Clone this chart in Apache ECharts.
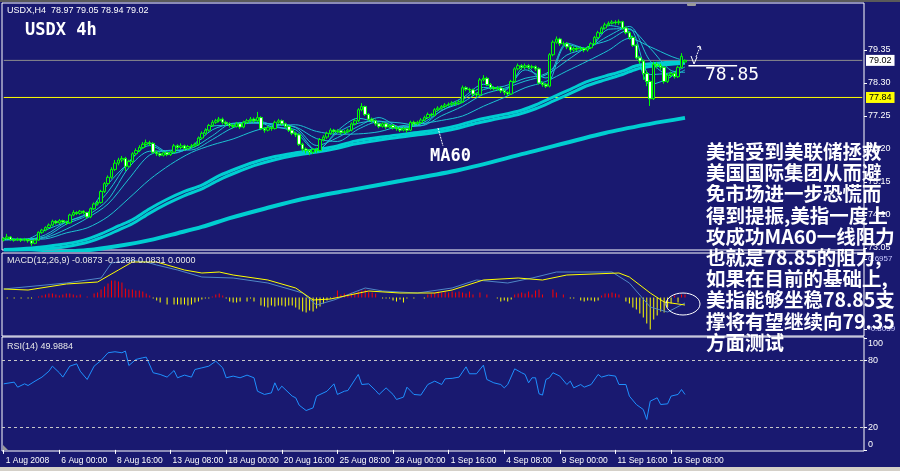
<!DOCTYPE html>
<html><head><meta charset="utf-8">
<script src="https://cdn.jsdelivr.net/npm/echarts@6/dist/echarts.min.js"></script>
<style>html,body{margin:0;padding:0;background:#191970;}#c{width:900px;height:471px;}</style>
</head><body><div id="c"></div>
<script>
// ---------- DATA ----------
const timeLabels=['1 Aug 2008','6 Aug 00:00','8 Aug 16:00','13 Aug 08:00','18 Aug 00:00','20 Aug 16:00','25 Aug 08:00','28 Aug 00:00','1 Sep 16:00','4 Sep 08:00','9 Sep 00:00','11 Sep 16:00','16 Sep 08:00'];
const opens=[73.30,73.35,73.40,73.32,73.30,73.33,73.30,73.32,73.28,73.20,
73.30,73.55,73.62,73.70,73.78,73.90,73.85,73.92,73.88,73.85,
74.10,74.18,74.15,74.22,74.18,74.04,74.30,74.45,74.50,74.85,
75.10,75.30,75.55,75.75,75.85,75.90,75.65,75.80,76.05,76.15,
76.25,76.35,76.40,76.38,76.10,76.05,76.00,76.08,76.02,76.10,
76.30,76.25,76.30,76.22,76.28,76.30,76.35,76.55,76.70,76.80,
76.95,77.05,77.10,77.15,77.05,77.00,76.95,76.92,77.00,76.90,
77.05,77.10,77.15,77.10,77.20,76.85,76.80,76.88,76.85,77.05,
77.10,77.00,76.92,76.80,76.70,76.65,76.35,76.20,76.15,76.10,
76.18,76.15,76.50,76.58,76.70,76.80,76.75,76.78,76.72,76.75,
76.80,77.00,77.10,77.45,77.55,77.30,77.15,77.10,77.00,76.92,
77.00,76.90,76.95,76.88,76.85,76.80,76.85,76.80,77.05,77.00,
77.05,77.12,77.20,77.30,77.28,77.45,77.50,77.55,77.60,77.62,
77.66,77.65,77.70,78.15,78.10,78.08,77.95,77.92,78.40,78.45,
78.25,78.15,78.12,78.14,78.05,78.00,77.95,78.35,78.75,78.85,
78.80,78.85,78.80,78.82,78.75,78.30,78.25,78.20,79.20,79.60,
79.70,79.55,79.55,79.45,79.35,79.40,79.38,79.40,79.35,79.42,
79.55,79.75,79.90,80.05,80.15,80.20,80.24,80.22,80.25,80.05,
79.90,79.75,79.50,79.10,79.00,78.60,78.35,77.80,78.90,78.85,
78.80,78.35,78.55,78.60,78.50,78.80,78.97];
const closes=[73.35,73.40,73.32,73.30,73.33,73.30,73.32,73.28,73.20,73.30,
73.55,73.62,73.70,73.78,73.90,73.85,73.92,73.88,73.85,74.10,
74.18,74.15,74.22,74.18,74.04,74.30,74.45,74.50,74.85,75.10,
75.30,75.55,75.75,75.85,75.90,75.65,75.80,76.05,76.15,76.25,
76.35,76.40,76.38,76.10,76.05,76.00,76.08,76.02,76.10,76.30,
76.25,76.30,76.22,76.28,76.30,76.35,76.55,76.70,76.80,76.95,
77.05,77.10,77.15,77.05,77.00,76.95,76.92,77.00,76.90,77.05,
77.10,77.15,77.10,77.20,76.85,76.80,76.88,76.85,77.05,77.10,
77.00,76.92,76.80,76.70,76.65,76.35,76.20,76.15,76.10,76.18,
76.15,76.50,76.58,76.70,76.80,76.75,76.78,76.72,76.75,76.80,
77.00,77.10,77.45,77.55,77.30,77.15,77.10,77.00,76.92,77.00,
76.90,76.95,76.88,76.85,76.80,76.85,76.80,77.05,77.00,77.05,
77.12,77.20,77.30,77.28,77.45,77.50,77.55,77.60,77.62,77.66,
77.65,77.70,78.15,78.10,78.08,77.95,77.92,78.40,78.45,78.25,
78.15,78.12,78.14,78.05,78.00,77.95,78.35,78.75,78.85,78.80,
78.85,78.80,78.82,78.75,78.30,78.25,78.20,79.20,79.60,79.70,
79.55,79.55,79.45,79.35,79.40,79.38,79.40,79.35,79.42,79.55,
79.75,79.90,80.05,80.15,80.20,80.24,80.22,80.25,80.05,79.90,
79.75,79.50,79.10,79.00,78.60,78.35,77.80,78.90,78.85,78.80,
78.35,78.55,78.60,78.50,78.80,79.15,79.02];
const lows=[73.26,73.32,73.28,73.25,73.27,73.24,73.26,73.22,73.12,73.17,
73.28,73.50,73.58,73.66,73.74,73.80,73.82,73.83,73.78,73.82,
74.06,74.10,74.11,74.12,73.98,74.00,74.26,74.40,74.46,74.80,
75.05,75.25,75.50,75.68,75.78,75.50,75.60,75.76,76.00,76.10,
76.20,76.30,76.30,76.05,75.98,75.95,75.96,75.97,75.98,76.06,
76.18,76.20,76.15,76.17,76.22,76.25,76.30,76.50,76.65,76.75,
76.90,77.00,77.05,76.98,76.94,76.88,76.86,76.88,76.84,76.86,
77.00,77.05,77.04,77.06,76.80,76.72,76.76,76.78,76.82,77.00,
76.95,76.86,76.74,76.64,76.58,76.30,76.12,76.06,76.00,76.04,
76.08,76.12,76.44,76.52,76.65,76.68,76.70,76.66,76.68,76.70,
76.76,76.95,77.06,77.40,77.25,77.10,77.04,76.94,76.86,76.88,
76.84,76.86,76.82,76.78,76.74,76.76,76.72,76.77,76.94,76.96,
77.00,77.08,77.16,77.22,77.24,77.40,77.45,77.50,77.55,77.57,
77.58,77.60,77.66,78.04,78.00,77.88,77.85,77.88,78.35,78.20,
78.08,78.06,78.05,77.98,77.92,77.88,77.92,78.30,78.70,78.72,
78.74,78.73,78.74,78.68,78.25,78.18,78.14,78.16,79.15,79.55,
79.48,79.48,79.38,79.28,79.30,79.32,79.33,79.28,79.30,79.38,
79.50,79.70,79.86,80.00,80.10,80.16,80.16,80.15,80.00,79.85,
79.68,79.45,79.05,78.92,78.40,78.20,77.57,77.76,78.76,78.72,
78.28,78.30,78.48,78.44,78.46,78.76,78.94];
const highs=[73.40,73.50,73.43,73.36,73.38,73.36,73.37,73.35,73.30,73.34,
73.58,73.66,73.74,73.83,73.95,73.94,73.97,73.95,73.92,74.14,
74.25,74.22,74.26,74.25,74.20,74.34,74.50,74.56,74.90,75.15,
75.36,75.62,75.85,75.92,75.98,75.95,75.86,76.10,76.22,76.32,
76.42,76.50,76.46,76.42,76.15,76.10,76.12,76.12,76.15,76.36,
76.35,76.38,76.34,76.33,76.36,76.40,76.60,76.76,76.86,77.00,
77.12,77.16,77.22,77.20,77.10,77.05,77.00,77.06,77.04,77.10,
77.16,77.22,77.20,77.38,77.24,76.90,76.94,76.92,77.10,77.16,
77.14,77.04,76.96,76.84,76.75,76.70,76.40,76.25,76.20,76.22,
76.24,76.55,76.64,76.75,76.86,76.84,76.83,76.82,76.80,76.85,
77.05,77.16,77.50,77.66,77.58,77.34,77.20,77.14,77.04,77.05,
77.04,77.00,76.99,76.92,76.90,76.90,76.88,77.10,77.10,77.10,
77.18,77.26,77.36,77.35,77.50,77.56,77.60,77.66,77.68,77.72,
77.72,77.76,78.22,78.20,78.15,78.12,78.00,78.46,78.55,78.50,
78.30,78.20,78.20,78.18,78.10,78.04,78.40,78.80,78.92,78.90,
78.92,78.90,78.88,78.86,78.80,78.35,78.30,79.25,79.66,79.78,
79.74,79.62,79.60,79.50,79.46,79.45,79.46,79.44,79.48,79.60,
79.80,79.96,80.10,80.22,80.26,80.30,80.30,80.32,80.28,80.10,
79.95,79.80,79.55,79.15,79.05,78.70,78.40,78.98,78.96,78.92,
78.84,78.60,78.66,78.65,78.85,79.25,79.05];

// moving-average ribbon, read at sample bars
const maIdx=[0,6,12,18,24,30,36,42,48,54,60,66,72,78,84,90,96,102,108,114,120,126,132,138,144,150,156,162,168,174,180,186,192,196];
const ma3=[73.35,73.32,73.62,73.88,74.15,75.08,75.78,76.38,76.07,76.27,76.93,76.96,77.12,76.93,76.72,76.14,76.78,77.18,77.01,76.84,77.06,77.50,77.83,78.26,78.06,78.83,78.25,79.52,79.39,80.13,79.90,78.25,78.50,78.99];
const ma5=[73.34,73.31,73.47,73.88,74.15,74.84,75.79,76.31,76.05,76.27,76.81,77.01,77.06,76.89,76.81,76.16,76.72,77.02,77.09,76.88,77.00,77.42,77.76,78.16,78.09,78.72,78.46,79.57,79.39,80.01,80.03,78.57,78.63,78.81];
const ma8=[73.33,73.33,73.41,73.81,74.08,74.59,75.61,76.13,76.14,76.22,76.62,77.02,77.02,76.99,76.88,76.31,76.56,76.92,77.20,76.91,76.94,77.43,77.68,78.09,78.20,78.45,78.60,79.19,79.41,79.80,80.10,79.00,78.53,78.72];
const ma12=[73.32,73.33,73.38,73.65,74.00,74.45,75.25,76.01,76.16,76.17,76.50,76.88,77.04,76.99,76.90,76.53,76.44,76.83,77.07,77.03,76.94,77.26,77.56,77.94,78.13,78.36,78.56,79.01,79.45,79.66,80.00,79.40,78.70,78.64];
const ma24=[73.30,73.32,73.34,73.53,73.69,74.05,74.63,75.23,75.71,76.09,76.33,76.52,76.77,76.94,76.97,76.76,76.67,76.68,76.75,76.93,77.00,77.11,77.25,77.56,77.84,78.15,78.35,78.68,79.00,79.34,79.72,79.45,79.15,79.00];
const thickIdx=[0,8,16,23,28,33,37,42,47,52,57,62,67,72,78,84,90,96,101,110,120,126,131,136,142,148,153,158,163,168,173,178,182,187,192,196];
const ma55=[73.00,73.05,73.15,73.30,73.50,73.75,73.95,74.30,74.60,74.85,75.05,75.35,75.58,75.78,75.96,76.08,76.18,76.30,76.45,76.60,76.74,76.84,76.96,77.12,77.26,77.40,77.60,77.85,78.10,78.35,78.52,78.68,78.85,78.92,78.96,78.98];
const ma60=[72.96,72.99,73.06,73.20,73.38,73.62,73.82,74.16,74.46,74.72,74.93,75.22,75.46,75.67,75.86,76.00,76.10,76.22,76.36,76.52,76.66,76.76,76.87,77.02,77.16,77.30,77.48,77.72,77.97,78.22,78.40,78.57,78.74,78.84,78.90,78.93];
const ma200Idx=[0,10,20,26,35,42,50,57,65,75,86,100,114,131,150,173,186,196];
const ma200=[72.80,72.88,72.95,73.00,73.15,73.30,73.52,73.72,74.00,74.30,74.61,74.90,75.18,75.53,76.06,76.71,77.00,77.19];

const priceTicks=[73.05,74.10,75.15,76.20,77.25,78.30,79.35];
const lastPrice=79.02, supportLevel=77.84, targetLevel=78.85;

// MACD panel (values in panel units, zero = histogram base)
const macdHist=[0,-1,0,-1,0,-1,0,-1,-1,0,
1,2,3,4,4,3,2,3,4,4,
3,2,3,0,1,0,4,5,8,11,
14,17,17,16,15,9,8,8,7,7,
6,4,2,-1,-3,-5,0,-7,0,-7,
-7,-7,-7,-8,-7,-5,-4,-2,-1,-1,
1,3,4,2,-1,-4,-5,-5,-4,0,
-4,-1,-4,0,-8,-9,-10,-8,-9,-8,
-8,-9,-8,-8,-10,-12,-14,-15,-13,-14,
-11,-9,-6,-3,-1,1,7,3,4,3,
5,4,6,7,8,6,5,4,0,-1,
-1,-1,-3,-4,-2,-5,-1,0,-1,0,
0,-1,3,4,5,6,5,6,5,6,
5,6,5,4,6,3,0,5,0,3,
0,0,-1,-4,-3,-4,-2,3,4,5,
4,6,3,7,8,3,0,0,8,5,
0,3,0,-1,-1,0,-3,-4,-3,-3,
-4,-3,2,4,4,5,4,3,0,-4,
-6,-10,-12,-16,-20,-26,-32,-22,-18,-14,
-15,-10,-6,2,-5,3,3];
const macdMain=[[0,8.5],[18,14.5],[28,19.5],[31,34.5],[36,37.5],[41,35.5],[44,32.5],[50,27.5],[57,20.5],[66,19.5],[76,14.5],[86,4.5],[90,-7.5],[95,-2.5],[104,9.5],[109,6.5],[119,4.5],[129,9.5],[136,17.5],[145,14.5],[152,19.5],[159,25.5],[175,25.5],[180,14.5],[186,-9.5],[191,-14.5],[196,-5.5]];
const macdSignal=[[0,8.5],[7,7.5],[18,13.5],[27,15.5],[33,27.5],[37,35.5],[44,35.5],[52,27.5],[57,24.5],[62,25.5],[66,22.5],[76,17.5],[84,9.5],[89,-2.5],[94,-1.5],[105,6.5],[114,4.5],[124,4.5],[129,7.5],[138,17.5],[148,19.5],[155,17.5],[162,22.5],[177,24.5],[180,20.5],[186,4.5],[190,-4.5],[196,-7.5]];
const macdTickValues=[38.5,-31.5];
const macdTickLabels=['0.6957','-0.8039'];

// RSI(14)
const rsiPoints=[[0,59.1],[3,60.6],[4,56.1],[6,59.1],[7,57.6],[9,61.5],[11,65.1],[13,70.4],[14,74.9],[16,69.0],[17,65.1],[19,74.9],[21,77.0],[22,70.4],[24,63.0],[26,74.9],[28,80.0],[30,86.9],[32,87.8],[34,86.9],[35,88.4],[36,75.5],[38,80.9],[40,82.4],[41,83.0],[43,69.0],[45,67.5],[47,65.1],[49,71.0],[50,64.5],[52,66.9],[54,65.1],[55,71.9],[57,73.4],[59,74.9],[61,79.4],[63,73.4],[64,64.5],[66,66.0],[68,64.5],[70,66.9],[72,64.5],[73,52.5],[75,49.6],[77,51.0],[78,60.0],[79,53.1],[80,57.0],[83,48.1],[84,46.6],[85,40.0],[87,35.2],[89,37.6],[90,48.1],[93,52.5],[95,59.1],[96,49.6],[98,52.5],[99,53.1],[102,67.5],[103,58.5],[105,59.1],[107,53.1],[108,49.6],[110,55.5],[112,49.6],[113,45.1],[115,47.2],[116,56.1],[118,49.6],[120,49.0],[122,58.5],[124,61.5],[126,58.5],[127,63.6],[129,64.0],[131,65.1],[133,74.3],[134,68.1],[136,68.1],[138,75.8],[139,63.0],[141,60.0],[143,58.5],[144,55.5],[145,58.5],[147,72.5],[149,69.0],[150,67.5],[151,60.0],[152,64.5],[153,64.5],[154,50.2],[155,49.0],[156,63.0],[157,64.5],[158,69.0],[160,66.0],[162,58.5],[163,61.5],[164,55.5],[166,58.5],[167,56.1],[169,58.5],[171,67.5],[172,65.1],[174,66.9],[176,66.0],[177,58.5],[179,58.5],[180,48.1],[182,40.6],[184,36.1],[185,27.2],[186,43.6],[188,46.6],[189,40.6],[191,41.2],[192,48.1],[194,49.6],[195,54.0],[196,49.6]];
const rsiTicks=[0,20,80,100];
const rsiLevels=[80,20];

const headerText='USDX,H4  78.97 79.05 78.94 79.02';
const macdText='MACD(12,26,9) -0.0873 -0.1288 0.0831 0.0000';
const rsiText='RSI(14) 49.9884';
const noteLines=['美指受到美联储拯救','美国国际集团从而避','免市场进一步恐慌而','得到提振,美指一度上','攻成功MA60一线阻力','也就是78.85的阻力,','如果在目前的基础上,','美指能够坐稳78.85支','撑将有望继续向79.35','方面测试'];

// ---------- CHART ----------
const chart=echarts.init(document.getElementById('c'),null,{renderer:'canvas',width:900,height:471});
const N=248;
const cats=Array.from({length:N},(_,i)=>String(i));
const candleData=closes.map((c,i)=>[opens[i],c,lows[i],highs[i]]);
const pair=(idx,vals)=>idx.map((x,k)=>[x,vals[k]]);
const FONT='"Liberation Sans", Arial, sans-serif';
const showTime=(i)=> i%16===0 && i/16<timeLabels.length;

const grids=[
 {left:2,top:3,width:862,height:247},
 {left:2,top:253,width:862,height:83},
 {left:2,top:337,width:862,height:114}
].map(g=>Object.assign(g,{show:true,borderColor:'#ffffff',borderWidth:1,backgroundColor:'transparent'}));

const xAxes=[0,1,2].map(k=>({type:'category',gridIndex:k,data:cats,boundaryGap:true,
  axisLine:{show:false},splitLine:{show:false},
  axisTick:{show:k===2,interval:showTime,alignWithLabel:true,length:4,lineStyle:{color:'#ffffff'}},
  axisLabel:{show:k===2,interval:showTime,formatter:(v)=>timeLabels[Number(v)/16]||'',align:'left',
    color:'#ffffff',fontSize:8.5,fontFamily:FONT,margin:5,padding:[0,0,0,2]}}));

const lab={color:'#ffffff',fontSize:9,fontFamily:FONT};
const yAxes=[
 {gridIndex:0,type:'value',position:'right',min:72.986,max:80.846,splitLine:{show:false},axisLine:{show:false},
  axisTick:{show:true,customValues:priceTicks,length:3,lineStyle:{color:'#ffffff'}},
  axisLabel:Object.assign({customValues:priceTicks,formatter:v=>v.toFixed(2),margin:4},lab)},
 {gridIndex:1,type:'value',position:'right',min:-38.5,max:44.5,splitLine:{show:false},axisLine:{show:false},
  axisTick:{show:true,customValues:macdTickValues,length:3,lineStyle:{color:'#ffffff'}},
  axisLabel:Object.assign({customValues:macdTickValues,formatter:v=>macdTickLabels[macdTickValues.indexOf(v)]||'',margin:4},lab,{fontSize:8,color:'#c8c8ff'})},
 {gridIndex:2,type:'value',position:'right',min:-1,max:101,splitLine:{show:false},axisLine:{show:false},
  axisTick:{show:true,customValues:rsiTicks,length:3,lineStyle:{color:'#ffffff'}},
  axisLabel:Object.assign({customValues:rsiTicks,margin:4,
    formatter:v=> v===100?'{t|100}':(v===0?'{b|0}':String(v)),
    rich:{t:{padding:[11,0,0,0],fontSize:9,color:'#ffffff',fontFamily:FONT},b:{padding:[0,0,11,0],fontSize:9,color:'#ffffff',fontFamily:FONT}}},lab)}
];

const line=(data,w,color,xi,z,smooth)=>({type:'line',data,xAxisIndex:xi,yAxisIndex:xi,symbol:'none',showSymbol:false,
  lineStyle:{width:w,color},itemStyle:{color},z,smooth:smooth||false,silent:true,animation:false});

const CY='#00CED1', CYT='#1cc3d2';
const series=[
 line([[0,lastPrice],[N-1,lastPrice]],1,'#8c8c8c',0,1),
 line([[0,supportLevel],[N-1,supportLevel]],1,'#ffff00',0,1),
 line(pair(ma200Idx,ma200),4,CY,0,2,0.3),
 line(pair(thickIdx,ma60),3,CY,0,2,0.3),
 line(pair(thickIdx,ma55),3,CY,0,2,0.3),
 line(pair(maIdx,ma24),1,CYT,0,2,0.3),
 line(pair(maIdx,ma12),1,CYT,0,2,0.3),
 line(pair(maIdx,ma8),1,CYT,0,2,0.3),
 line(pair(maIdx,ma5),1,CYT,0,2,0.3),
 line(pair(maIdx,ma3),1,CYT,0,2,0.3),
 {type:'candlestick',data:candleData,xAxisIndex:0,yAxisIndex:0,barWidth:3,z:5,silent:true,animation:false,
  itemStyle:{color:'#191970',color0:'#ffffff',borderColor:'#00ff00',borderColor0:'#00ff00',borderWidth:1}},
 line([[197,targetLevel],[211,targetLevel]],1.5,'#ffffff',0,6),
 {type:'bar',data:macdHist,xAxisIndex:1,yAxisIndex:1,barWidth:1,silent:true,animation:false,z:2,
  itemStyle:{color:p=>p.value>=0?'#ff0000':'#ffff00'}},
 line(macdMain,1,'#4f86c6',1,3),
 line(macdSignal,1,'#ffff00',1,4),
 Object.assign(line(rsiPoints,1,'#1e90ff',2,3),{markLine:{symbol:['none','none'],silent:true,animation:false,label:{show:false},
   lineStyle:{color:'#c8c8c8',width:1,type:[3,3]},data:rsiLevels.map(v=>({yAxis:v}))}})
];

chart.setOption({backgroundColor:'#191970',animation:false,grid:grids,xAxis:xAxes,yAxis:yAxes,series});

const py=v=>chart.convertToPixel({yAxisIndex:0},v);
const txt=(x,y,text,font,extra)=>({type:'text',x,y,z:100,silent:true,style:Object.assign({text,fill:'#ffffff',font},extra||{})});
const graphics=[
 {type:'rect',shape:{x:0,y:0,width:900,height:2},style:{fill:'#5a5a5a'},z:90,silent:true},
 {type:'rect',shape:{x:0,y:467,width:900,height:4},style:{fill:'#d4d0c8'},z:90,silent:true},
 {type:'rect',shape:{x:687,y:3,width:9,height:3,r:1},style:{fill:'#9a9a9a'},z:90,silent:true},
 {type:'polygon',shape:{points:[[3,445],[3,450],[8,450]]},style:{fill:'#9a9a9a'},z:90,silent:true},
 txt(7,6,headerText,'9px '+FONT),
 txt(25,22,'USDX 4h','bold 17px "DejaVu Sans Mono", monospace'),
 txt(705,66,'78.85','18px "DejaVu Sans Mono", monospace'),
 txt(430,148,'MA60','bold 17px "DejaVu Sans Mono", monospace'),
 {type:'polyline',shape:{points:[[438,128],[443,146]]},style:{stroke:'#ffffff',lineWidth:1,lineDash:[2,1]},z:100,silent:true},
 {type:'polyline',shape:{points:[[691,56],[694,64],[697,57]]},style:{stroke:'#ffffff',lineWidth:1},z:100,silent:true},
 {type:'polyline',shape:{points:[[696,57],[700,47]]},style:{stroke:'#ffffff',lineWidth:1,lineDash:[2,1]},z:100,silent:true},
 {type:'polyline',shape:{points:[[697,47],[700,46],[701,50]]},style:{stroke:'#ffffff',lineWidth:1},z:100,silent:true},
 {type:'ellipse',shape:{cx:683,cy:304,rx:17,ry:11},style:{stroke:'#ffffff',fill:null,lineWidth:1},z:100,silent:true},
 txt(7,256,macdText,'9px '+FONT,{fill:'#e8e8e8'}),
 txt(7,342,rsiText,'9px '+FONT,{fill:'#e8e8e8'}),
 txt(866,py(lastPrice),lastPrice.toFixed(2),'9px '+FONT,{fill:'#000000',backgroundColor:'#ffffff',padding:[1,3,1,3],verticalAlign:'middle',textVerticalAlign:'middle'}),
 txt(866,py(supportLevel),supportLevel.toFixed(2),'9px '+FONT,{fill:'#000000',backgroundColor:'#ffff00',padding:[1,3,1,3],verticalAlign:'middle',textVerticalAlign:'middle'}),
 txt(706,141,noteLines.join('\n'),'bold 19.5px "Noto Sans CJK SC", sans-serif',{lineHeight:21.2})
];
chart.setOption({graphic:graphics});
</script></body></html>
